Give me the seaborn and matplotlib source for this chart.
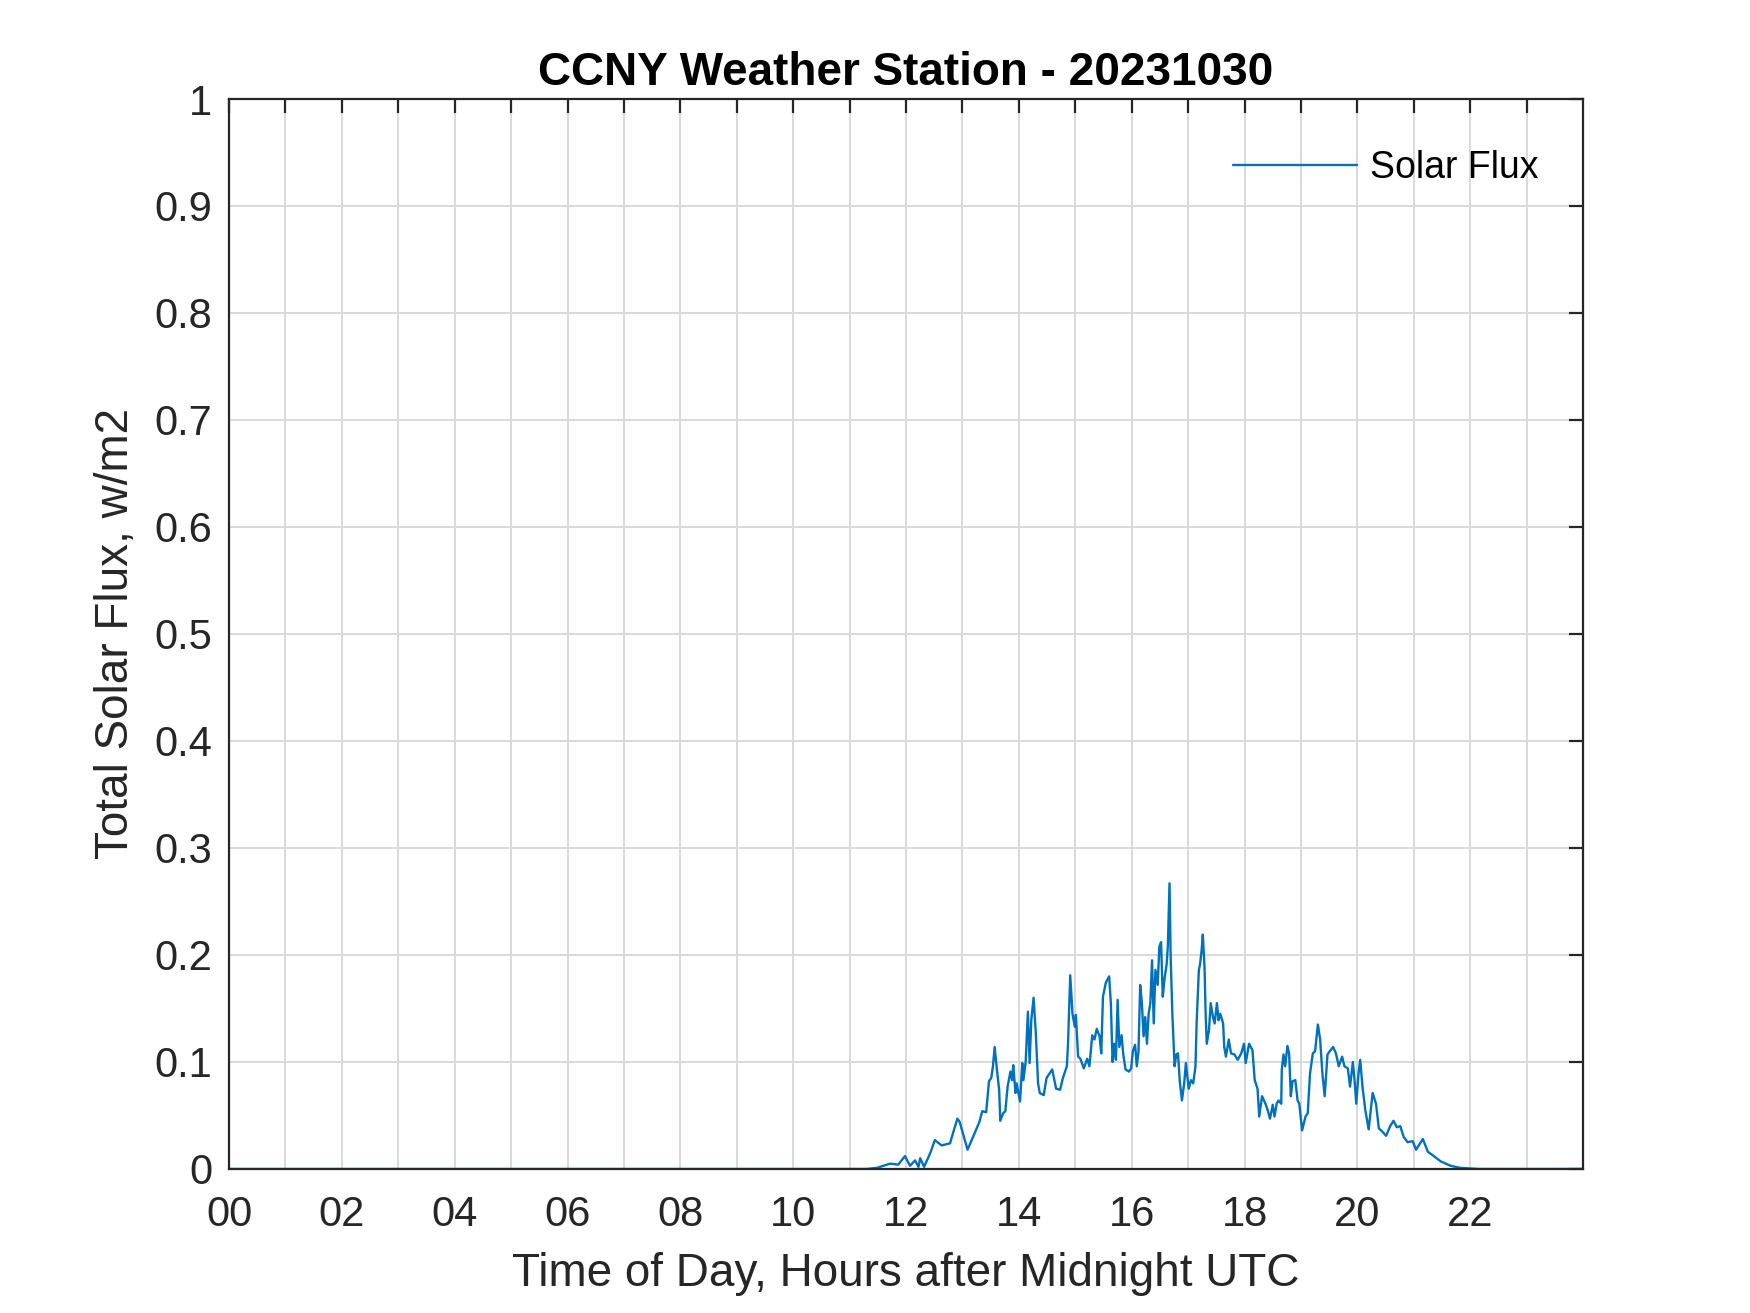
import numpy as np
import pandas as pd
import matplotlib
matplotlib.use("Agg")
import matplotlib.pyplot as plt
import seaborn as sns

# solar flux readings, hours after midnight UTC
hours = [0.0, 11.0, 11.3, 11.48, 11.72, 11.86, 11.98, 12.07, 12.16, 12.22, 12.25,
         12.32, 12.43, 12.51, 12.63, 12.78, 12.84, 12.91,
         12.95, 13.09, 13.18, 13.30, 13.35, 13.42, 13.47, 13.51, 13.54, 13.57,
         13.61, 13.65, 13.67, 13.72, 13.76, 13.80, 13.85, 13.88, 13.90, 13.94,
         13.96, 14.02, 14.06, 14.08, 14.12, 14.16, 14.19, 14.22, 14.26, 14.30,
         14.34, 14.37, 14.44, 14.49, 14.59, 14.66, 14.73, 14.78, 14.85, 14.87,
         14.91, 14.95, 14.99, 15.01, 15.05, 15.09, 15.15, 15.21, 15.25, 15.30,
         15.34, 15.38, 15.43, 15.46, 15.49, 15.54, 15.58,
         15.60, 15.63, 15.66, 15.69, 15.72, 15.75, 15.78, 15.82, 15.85, 15.89,
         15.95, 15.99, 16.02, 16.06, 16.09, 16.12, 16.15, 16.18, 16.21, 16.24,
         16.27, 16.30, 16.33, 16.36, 16.39, 16.42, 16.46, 16.49, 16.52, 16.55,
         16.58, 16.62, 16.64, 16.67, 16.69, 16.72, 16.76, 16.79, 16.82, 16.85,
         16.89, 16.93, 16.96, 17.01, 17.05, 17.09, 17.13, 17.15, 17.19, 17.21,
         17.24, 17.26, 17.29, 17.31, 17.33, 17.37, 17.40, 17.44, 17.47, 17.51,
         17.54, 17.57, 17.62, 17.64, 17.67, 17.72, 17.76, 17.82, 17.88, 17.94,
         17.99, 18.02, 18.08, 18.14, 18.18, 18.23,
         18.26, 18.31, 18.37, 18.41, 18.45, 18.50, 18.53, 18.57, 18.60, 18.65,
         18.66, 18.69, 18.72, 18.76, 18.79, 18.82, 18.85, 18.90, 18.94, 18.97,
         19.02, 19.08, 19.12, 19.16, 19.21, 19.25, 19.30, 19.34, 19.38, 19.42,
         19.47, 19.51, 19.57, 19.62, 19.67, 19.73, 19.77, 19.83, 19.87, 19.92,
         19.95, 19.98, 20.02, 20.05, 20.09, 20.14, 20.20, 20.27, 20.33, 20.38,
         20.44, 20.51, 20.58, 20.64, 20.70, 20.76, 20.82, 20.89,
         20.98, 21.04, 21.16, 21.25, 21.33, 21.48, 21.65, 21.83, 22.15, 24.0]
flux = [0.0, 0.0, 0.0, 0.001, 0.005, 0.004, 0.012, 0.003, 0.008, 0.002, 0.010,
        0.002, 0.015, 0.027, 0.022, 0.024, 0.035, 0.047,
        0.044, 0.018, 0.029, 0.044, 0.054, 0.053, 0.082, 0.085, 0.096, 0.114,
        0.093, 0.074, 0.045, 0.052, 0.054, 0.077, 0.091, 0.083, 0.097, 0.071,
        0.080, 0.063, 0.099, 0.083, 0.100, 0.147, 0.099, 0.139, 0.160, 0.127,
        0.080, 0.071, 0.069, 0.085, 0.093, 0.075, 0.074, 0.085, 0.096, 0.116,
        0.181, 0.145, 0.133, 0.144, 0.105, 0.103, 0.094, 0.103, 0.096, 0.125,
        0.121, 0.131, 0.124, 0.108, 0.161, 0.174, 0.178,
        0.180, 0.155, 0.100, 0.117, 0.102, 0.158, 0.114, 0.125, 0.107, 0.093,
        0.091, 0.094, 0.110, 0.116, 0.096, 0.110, 0.172, 0.155, 0.124, 0.142,
        0.117, 0.145, 0.155, 0.195, 0.136, 0.186, 0.172, 0.208, 0.212, 0.161,
        0.177, 0.192, 0.208, 0.267, 0.198, 0.145, 0.096, 0.107, 0.108, 0.083,
        0.064, 0.080, 0.099, 0.075, 0.083, 0.080, 0.096, 0.136, 0.186, 0.191,
        0.205, 0.219, 0.189, 0.145, 0.117, 0.130, 0.155, 0.142, 0.136, 0.155,
        0.139, 0.145, 0.136, 0.114, 0.105, 0.121, 0.108, 0.107, 0.102, 0.108,
        0.117, 0.099, 0.117, 0.111, 0.083, 0.075,
        0.049, 0.068, 0.061, 0.055, 0.047, 0.060, 0.049, 0.061, 0.064, 0.061,
        0.093, 0.107, 0.096, 0.115, 0.108, 0.068, 0.082, 0.083, 0.064, 0.061,
        0.036, 0.049, 0.052, 0.089, 0.108, 0.110, 0.135, 0.121, 0.089, 0.068,
        0.107, 0.110, 0.114, 0.108, 0.096, 0.105, 0.096, 0.094, 0.077, 0.100,
        0.083, 0.061, 0.089, 0.102, 0.077, 0.055, 0.037, 0.071, 0.061, 0.038,
        0.035, 0.031, 0.040, 0.045, 0.039, 0.040, 0.030, 0.025,
        0.026, 0.018, 0.028, 0.016, 0.013, 0.007, 0.003, 0.001, 0.0, 0.0]

hour_ticks = list(range(0, 24))
hour_labels = [f"{h:02d}" if h % 2 == 0 else "" for h in hour_ticks]
flux_ticks = [0, 0.1, 0.2, 0.3, 0.4, 0.5, 0.6, 0.7, 0.8, 0.9, 1]
flux_labels = ["0", "0.1", "0.2", "0.3", "0.4", "0.5", "0.6", "0.7", "0.8", "0.9", "1"]

df = pd.DataFrame({"hour": hours, "flux": flux})

sns.set_style("white")
plt.rcParams["font.family"] = ["Liberation Sans", "DejaVu Sans"]

axis_col = "#262626"
fig = plt.figure(figsize=(17.5, 13.13), dpi=100)
ax = fig.add_axes([0.1309, 0.1097, 0.7737, 0.8149])

sns.lineplot(data=df, x="hour", y="flux", ax=ax, color="#0072BD",
             linewidth=1.7, label="Solar Flux")

ax.set_xlim(0, 24)
ax.set_ylim(0, 1)
ax.set_xticks(hour_ticks)
ax.set_xticklabels(hour_labels)
ax.set_yticks(flux_ticks)
ax.set_yticklabels(flux_labels)
ax.grid(True, color="#d9d9d9", linewidth=1.4)
ax.set_axisbelow(True)

for s in ax.spines.values():
    s.set_color(axis_col)
    s.set_linewidth(1.6)
    s.set_visible(True)
ax.tick_params(direction="in", length=10, width=1.6, colors=axis_col,
               labelsize=30, top=True, right=True)
ax.tick_params(axis="x", pad=19)
ax.tick_params(axis="y", pad=12)

ax.set_title("CCNY Weather Station - 20231030", fontsize=33, fontweight="bold",
             color="black", pad=10)
ax.set_xlabel("Time of Day, Hours after Midnight UTC", fontsize=33,
              color=axis_col, labelpad=12)
ax.set_ylabel("Total Solar Flux, w/m2", fontsize=33, color=axis_col,
              labelpad=12)

leg = ax.legend(loc="upper right", frameon=False, fontsize=27,
                handlelength=3.3, handletextpad=0.35,
                bbox_to_anchor=(0.992, 0.984), labelcolor="black")

fig.savefig("out.png", dpi=100, facecolor="white")
